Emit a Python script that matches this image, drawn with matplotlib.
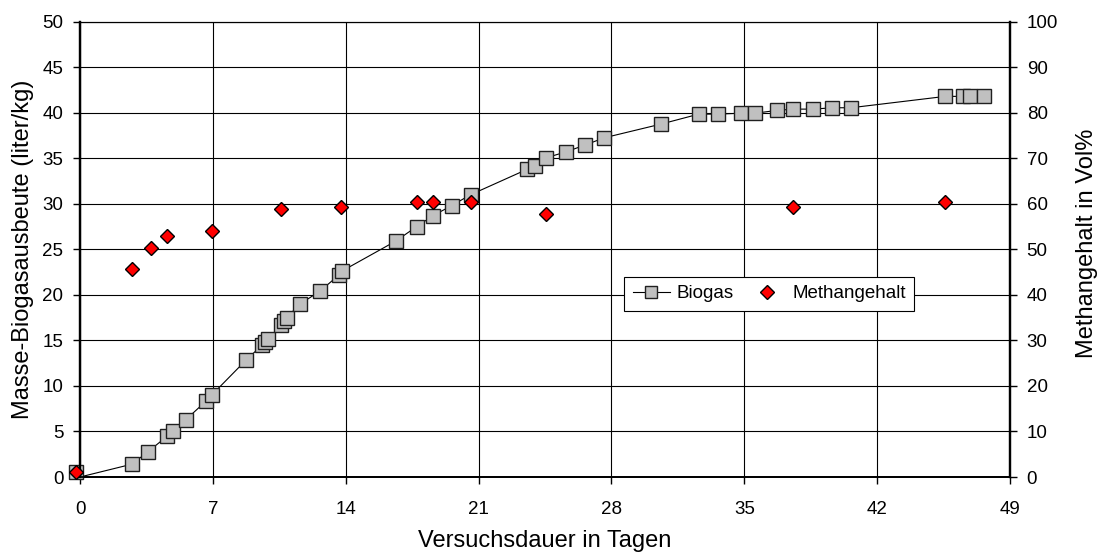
import matplotlib
matplotlib.use("Agg")
import matplotlib.pyplot as plt
from matplotlib.lines import Line2D

plt.rcParams['font.family'] = ['Liberation Sans', 'DejaVu Sans']

# ---- data ----
start_day = [-0.23]
start_biogas = [0.5]

biogas_days = [0.0, 2.72, 3.6, 4.6, 4.92, 5.58, 6.62, 6.94, 8.73, 9.6, 9.75, 9.92,
               10.59, 10.77, 10.89, 11.59, 12.64, 13.65, 13.79, 16.63, 17.74, 18.6,
               19.58, 20.58, 23.57, 23.97, 24.55, 25.6, 26.6, 27.62, 30.6, 32.6,
               33.6, 34.83, 35.56, 36.7, 37.58, 38.64, 39.64, 40.62, 45.6, 46.55,
               46.9, 47.65]
biogas_vals = [0.0, 1.4, 2.8, 4.5, 5.05, 6.3, 8.3, 9.0, 12.8, 14.5, 14.85, 15.15,
               16.7, 17.1, 17.5, 19.0, 20.4, 22.2, 22.6, 25.9, 27.5, 28.7,
               29.8, 31.0, 33.8, 34.1, 35.05, 35.7, 36.45, 37.25, 38.75, 39.85,
               39.85, 39.95, 39.95, 40.25, 40.4, 40.4, 40.55, 40.55, 41.8, 41.8,
               41.8, 41.8]

methan_days = [-0.23, 2.76, 3.74, 4.6, 6.94, 10.57, 13.75, 17.74, 18.6, 20.58,
               24.55, 37.58, 45.6]
methan_vals = [1.1, 45.6, 50.2, 52.9, 54.1, 58.8, 59.3, 60.4, 60.4, 60.4,
               57.7, 59.3, 60.4]

x_ticks = [0, 7, 14, 21, 28, 35, 42, 49]
y_left_ticks = list(range(0, 51, 5))
y_right_ticks = list(range(0, 101, 10))

# ---- figure ----
fig = plt.figure(figsize=(11.04, 5.54), dpi=100)
ax = fig.add_axes([80/1104, 1-477/554, 930/1104, 455.3/554])
ax2 = ax.twinx()

sq_face = '#C0C0C0'
sq_edge = '#202020'

ax.plot(biogas_days, biogas_vals, color='black', lw=0.8, marker='s',
        markersize=10.5, markerfacecolor=sq_face, markeredgecolor=sq_edge,
        markeredgewidth=1.0, markevery=list(range(1, len(biogas_days))),
        clip_on=False, zorder=3)
ax.plot(start_day, start_biogas, linestyle='none', marker='s', markersize=10.5,
        markerfacecolor=sq_face, markeredgecolor=sq_edge, markeredgewidth=1.0,
        clip_on=False, zorder=3)

ax2.plot(methan_days, methan_vals, linestyle='none', marker='D', markersize=7.5,
         markerfacecolor='#FF0000', markeredgecolor='black', markeredgewidth=1.0,
         clip_on=False, zorder=4)

ax.set_xlim(0, 49)
ax.set_ylim(0, 50)
ax2.set_ylim(0, 100)
ax.set_xticks(x_ticks)
ax.set_yticks(y_left_ticks)
ax2.set_yticks(y_right_ticks)

ax.grid(True, color='black', lw=0.8, zorder=0)
ax.set_axisbelow(True)

for a in (ax, ax2):
    for s in a.spines.values():
        s.set_color('black')
    a.spines['left'].set_linewidth(1.6)
    a.spines['right'].set_linewidth(1.6)
    a.spines['bottom'].set_linewidth(1.3)
    a.spines['top'].set_linewidth(0.8)

ax.tick_params(axis='y', direction='out', length=5, width=1, labelsize=13.5, pad=7)
ax.tick_params(axis='x', direction='out', length=5, width=1, labelsize=13.5, pad=12)
ax2.tick_params(axis='y', direction='out', length=5, width=1, labelsize=13.5, pad=7)

ax.set_xlabel('Versuchsdauer in Tagen', fontsize=17, va='baseline')
ax.xaxis.set_label_coords(0.5, (477-547)/455.3)
ax.set_ylabel('Masse-Biogasausbeute (liter/kg)', fontsize=17, va='center', ha='center')
ax.yaxis.set_label_coords((23-80)/930, 0.5)
ax2.set_ylabel('Methangehalt in Vol%', fontsize=17, va='center', ha='center', rotation=90)
ax2.yaxis.set_label_coords((1087-80)/930, (477-243)/455.3)

h1 = Line2D([], [], color='black', lw=0.8, marker='s', markersize=8.5,
            markerfacecolor=sq_face, markeredgecolor=sq_edge)
h2 = Line2D([], [], linestyle='none', marker='D', markersize=7,
            markerfacecolor='#FF0000', markeredgecolor='black')
leg = ax2.legend([h1, h2], ['Biogas', 'Methangehalt'], ncol=2,
                 loc='center', bbox_to_anchor=(0.741, 0.403), fontsize=13.5,
                 frameon=True, fancybox=False, edgecolor='black', framealpha=1,
                 borderpad=0.45, handlelength=2.0, columnspacing=0.75,
                 handletextpad=0.35, borderaxespad=0)
leg.get_frame().set_linewidth(0.8)

fig.savefig('out.png', dpi=100)
